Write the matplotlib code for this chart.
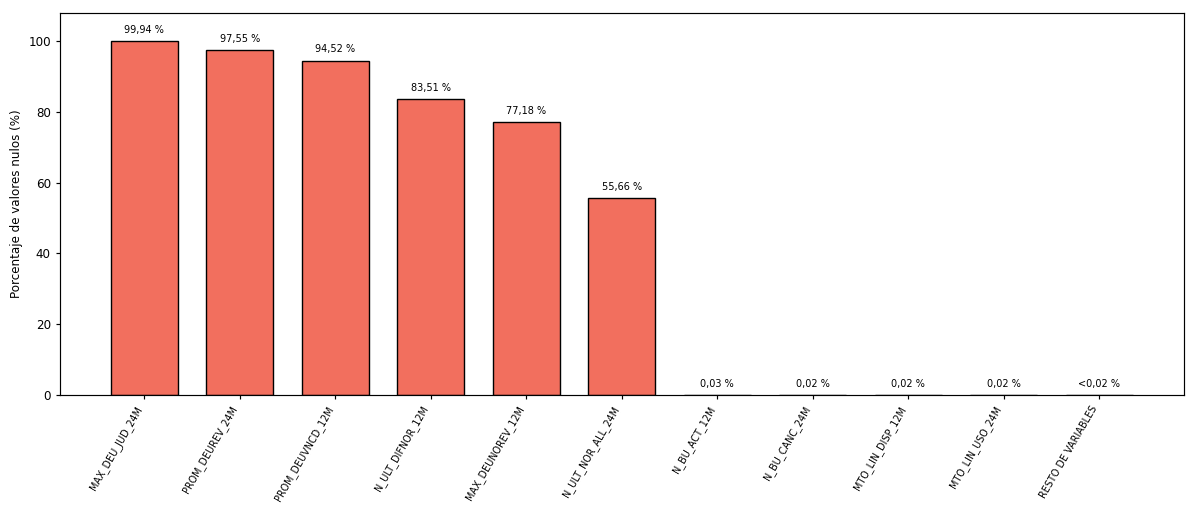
import matplotlib
matplotlib.use("Agg")
import matplotlib.pyplot as plt
import numpy as np

categories = ["MAX_DEU_JUD_24M", "PROM_DEUREV_24M", "PROM_DEUVNCD_12M", "N_ULT_DIFNOR_12M",
              "MAX_DEUNOREV_12M", "N_ULT_NOR_ALL_24M", "N_BU_ACT_12M", "N_BU_CANC_24M",
              "MTO_LIN_DISP_12M", "MTO_LIN_USO_24M", "RESTO DE VARIABLES"]
values = [99.94, 97.55, 94.52, 83.51, 77.18, 55.66, 0.03, 0.02, 0.02, 0.02, 0.01]
labels = ["99,94 %", "97,55 %", "94,52 %", "83,51 %", "77,18 %", "55,66 %",
          "0,03 %", "0,02 %", "0,02 %", "0,02 %", "<0,02 %"]

fig, ax = plt.subplots(figsize=(11.97, 5.13), dpi=100)
x = np.arange(len(categories))
bars = ax.bar(x, values, width=0.7, color="#f26f5e", edgecolor="black", linewidth=1.0)
for b, lab in zip(bars, labels):
    ax.annotate(lab, (b.get_x() + b.get_width() / 2, b.get_height()),
                xytext=(0, 4.5), textcoords="offset points", ha="center", va="bottom", fontsize=7)
ax.set_xticks(x)
ax.set_xticklabels(categories, rotation=60, ha="right", fontsize=6.9)
ax.set_ylabel("Porcentaje de valores nulos (%)", fontsize=8.6)
ax.tick_params(axis="y", labelsize=8.6)
ax.tick_params(width=0.85, length=3)
for s in ax.spines.values():
    s.set_linewidth(0.85)
ax.set_ylim(0, 108)
fig.subplots_adjust(left=0.05, right=0.989, top=0.975, bottom=0.23)
fig.savefig("out.png", dpi=100)
